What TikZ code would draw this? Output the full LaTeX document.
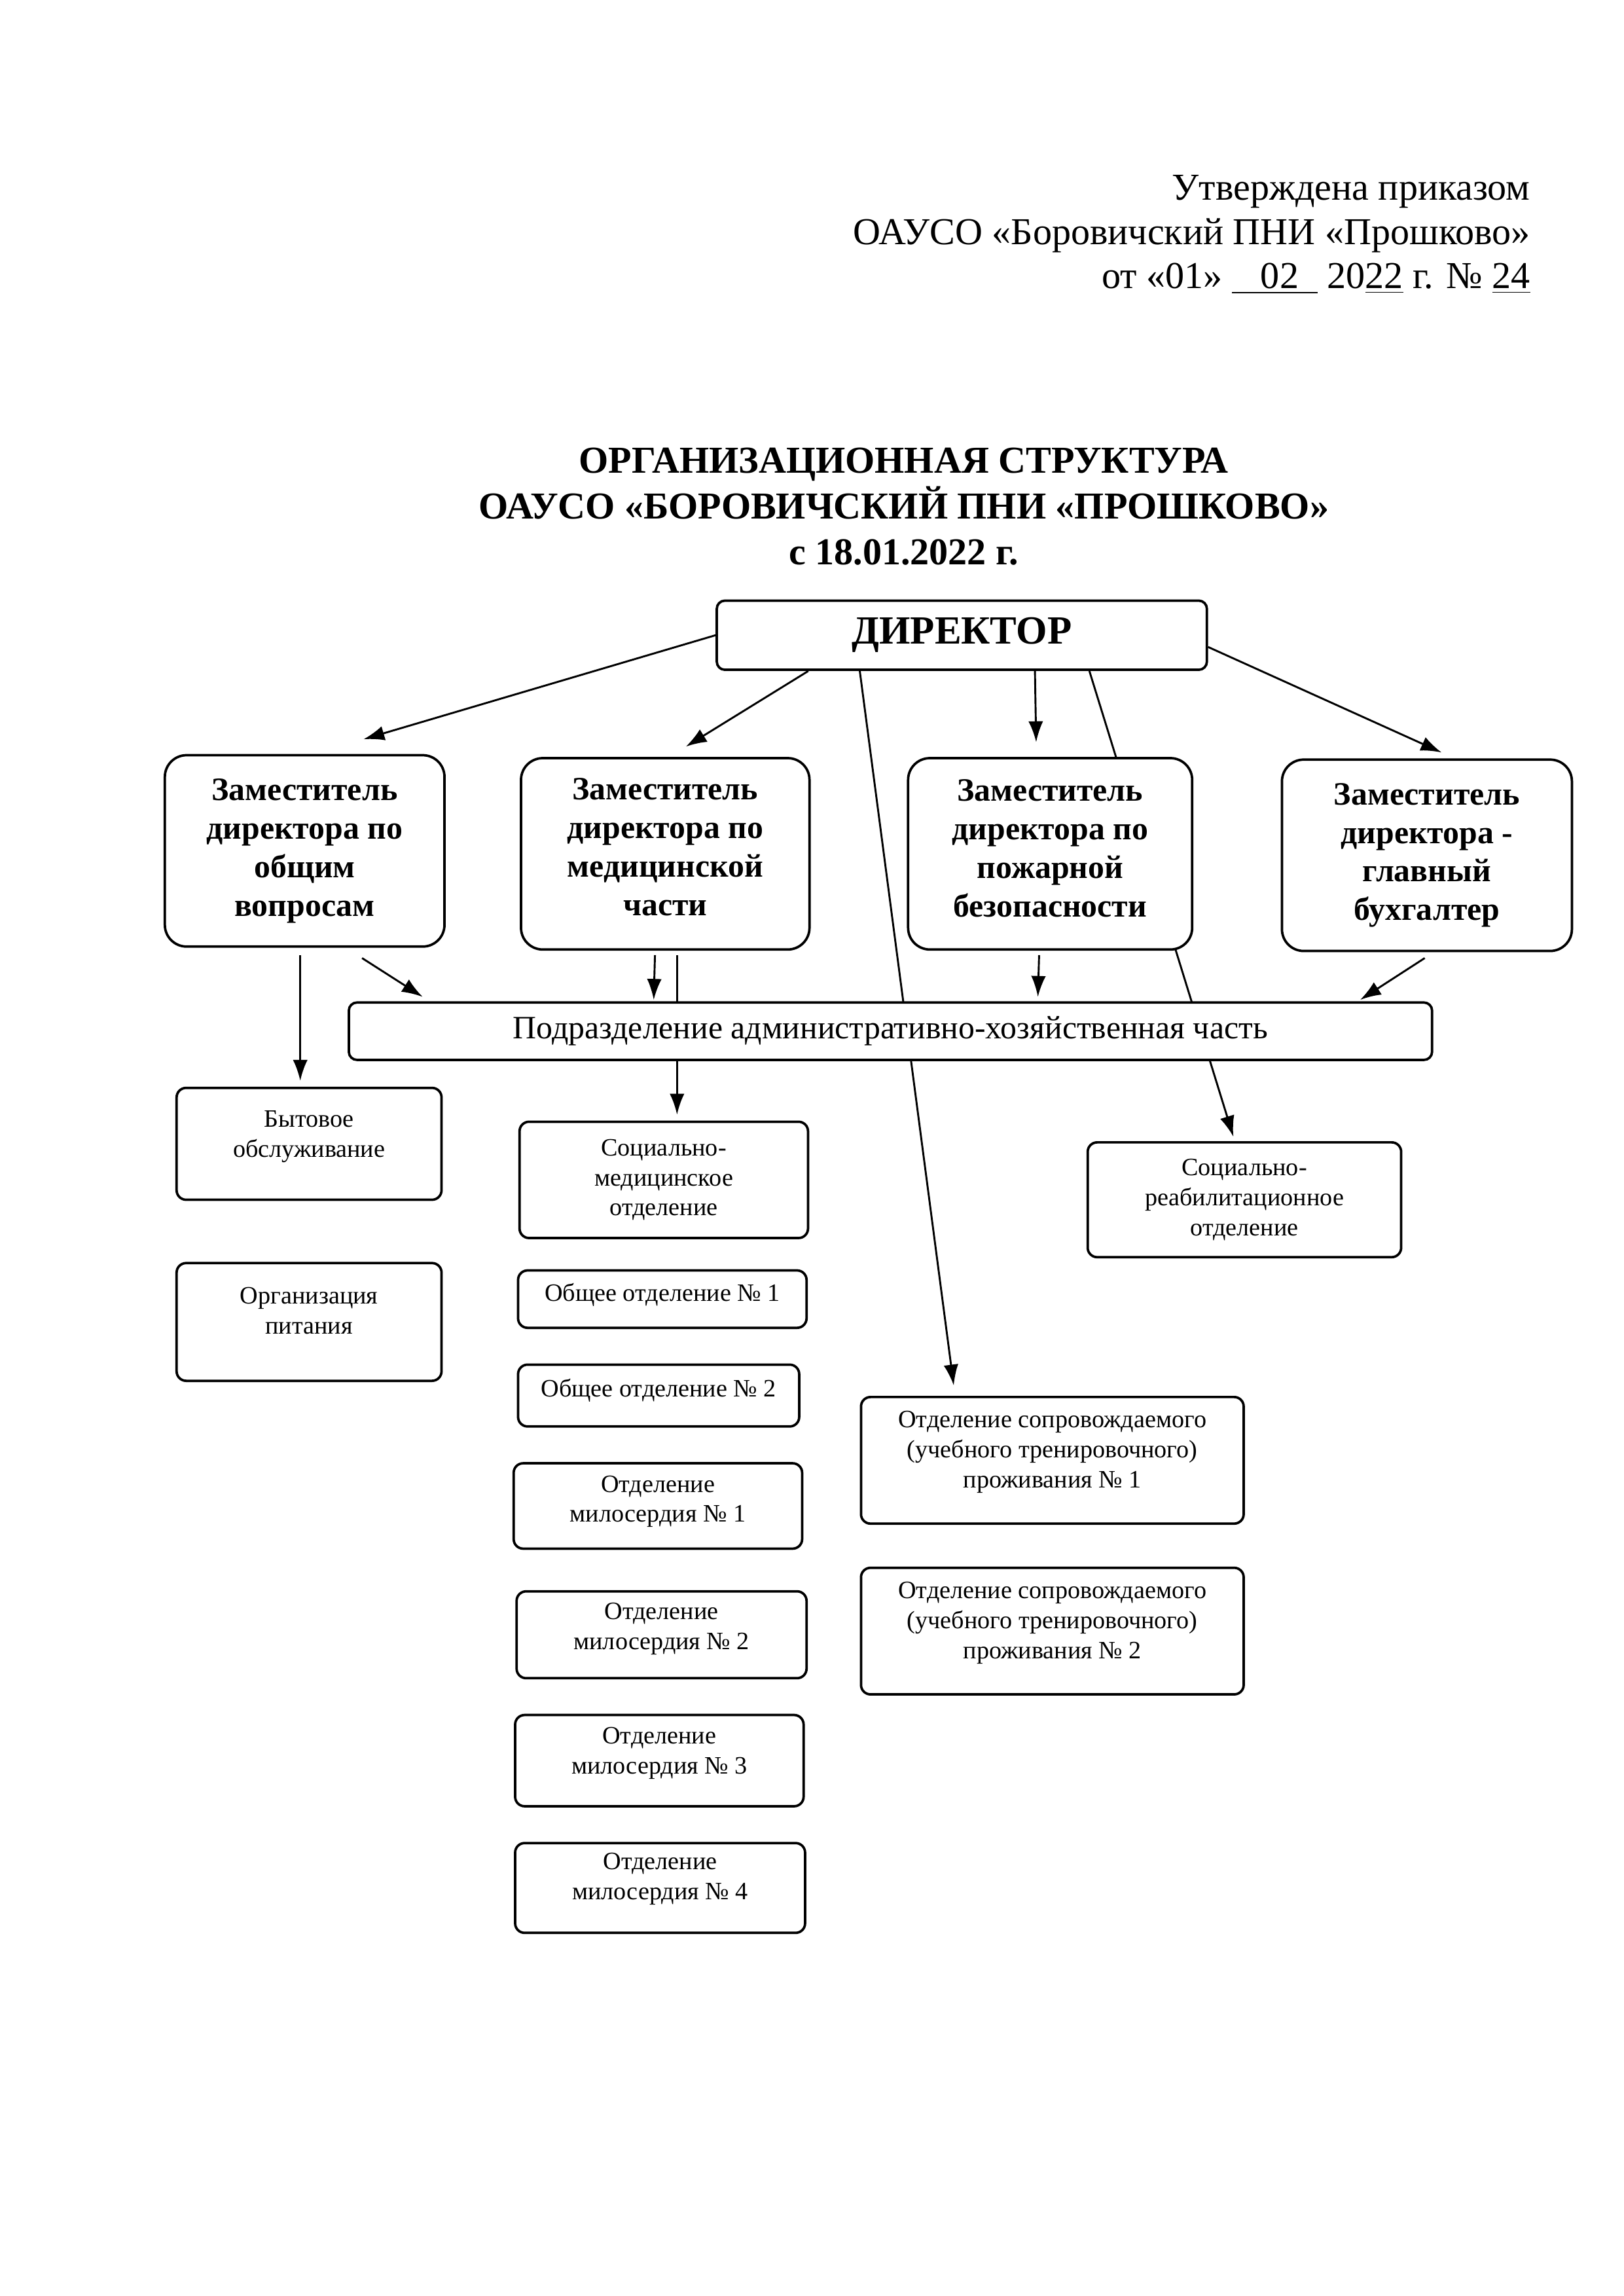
\documentclass[tikz,border=0pt]{standalone}
\usepackage{fontspec}
\setmainfont{Liberation Serif}
\usetikzlibrary{arrows.meta,calc}
\pgfdeclarelayer{bg}
\pgfsetlayers{bg,main}
\def\u{0.019039cm}
% \bx{style}{name}{x1}{y1}{x2}{y2}{text}
\newcommand\bx[7]{\node[#1, minimum width={(#5-#3)*\u}, minimum height={(#6-#4)*\u}] (#2) at ({(#3+#5)/2},{(#4+#6)/2}) {#7};}
% depth strut that lifts the text of a box
\newcommand\dstrut[1]{\rule[-#1]{0pt}{#1}}
\begin{document}
\begin{tikzpicture}[x=0.019039cm, y=-0.019039cm,
  box/.style={draw, line width=0.9pt, fill=white, rounded corners=#1, inner sep=0pt, align=center},
  deputy/.style={box=8pt, font=\fontsize{12}{14.2}\selectfont\bfseries},
  unit/.style={box=3.5pt, font=\fontsize{9.2}{11}\selectfont},
  hdr/.style={anchor=base east, inner sep=0pt, font=\fontsize{14}{16}\selectfont},
  ttl/.style={align=center, inner sep=0pt, font=\fontsize{14}{16.8}\selectfont\bfseries},
  arr/.style={-{Latex[length=2.7mm,width=1.9mm]}, line width=0.7pt}]
\useasboundingbox (0,0) rectangle (1103,1559.7);

% header
\node[hdr] (h1) at (1040,136) {Утверждена приказом};
\node[hdr] (h2) at (1040,166) {ОАУСО «Боровичский ПНИ «Прошково»};
\node[hdr] (h3) at (1040,196) {от «01» \underline{\ \ \ 02\ \ }\ 20\underline{22} г. № \underline{24}};

% title
\node[ttl] (title) at (614,344) {ОРГАНИЗАЦИОННАЯ СТРУКТУРА\\ОАУСО «БОРОВИЧСКИЙ ПНИ «ПРОШКОВО»\\с 18.01.2022 г.};

% director
\bx{box=3pt, font=\fontsize{14.7}{18}\selectfont\bfseries}{dir}{487}{408}{820}{455}{ДИРЕКТОР}

% deputies
\bx{deputy}{d1}{112}{513}{302}{643}{Заместитель\\директора по\\общим\\вопросам}
\bx{deputy}{d2}{354}{515}{550}{645}{Заместитель\\директора по\\медицинской\\части\dstrut{5pt}}
\bx{deputy}{d3}{617}{515}{810}{645}{Заместитель\\директора по\\пожарной\\безопасности\dstrut{4pt}}
\bx{deputy}{d4}{871}{516}{1068}{646}{Заместитель\\директора -\\главный\\бухгалтер}

% AHCh
\bx{box=3pt, font=\fontsize{12}{14}\selectfont}{ahch}{237}{681}{973}{720}{Подразделение административно-хозяйственная часть}

% left column
\bx{unit}{byt}{120}{739}{300}{815}{Бытовое\\обслуживание\dstrut{7.4pt}}
\bx{unit}{pit}{120}{858}{300}{938}{Организация\\питания\dstrut{8.3pt}}

% middle column
\bx{unit}{socmed}{353}{762}{549}{841}{Социально-\\медицинское\\отделение}
\bx{unit}{ob1}{352}{863}{548}{902}{Общее отделение № 1\dstrut{5pt}}
\bx{unit}{ob2}{352}{927}{543}{969}{Общее отделение № 2\dstrut{5.5pt}}
\bx{unit}{m1}{349}{994}{545}{1052}{Отделение\\милосердия № 1\dstrut{5.2pt}}
\bx{unit}{m2}{351}{1081}{548}{1140}{Отделение\\милосердия № 2\dstrut{6.3pt}}
\bx{unit}{m3}{350}{1165}{546}{1227}{Отделение\\милосердия № 3\dstrut{7.4pt}}
\bx{unit}{m4}{350}{1252}{547}{1313}{Отделение\\милосердия № 4\dstrut{8.5pt}}

% right column
\bx{unit}{socreab}{739}{776}{952}{854}{Социально-\\реабилитационное\\отделение}
\bx{unit}{sop1}{585}{949}{845}{1035}{Отделение сопровождаемого\\(учебного тренировочного)\\проживания № 1\dstrut{8pt}}
\bx{unit}{sop2}{585}{1065}{845}{1151}{Отделение сопровождаемого\\(учебного тренировочного)\\проживания № 2\dstrut{8pt}}

\begin{pgfonlayer}{bg}
\draw[arr] (dir.west) -- ($(d1.north)+(40,-10)$);
\draw[arr] ($(dir.south west)+(63,0)$) -- ($(d2.north)+(14,-7)$);
\draw[arr] ($(dir.south west)+(217,0)$) -- ($(d3.north)+(-9.5,-10)$);
\draw[arr] ($(dir.east)+(0,8)$) -- ($(d4.north)+(10,-4)$);
\draw[arr] ($(dir.south west)+(98,0)$) -- ($(sop1.north)+(-67,-7)$);
\draw[arr] ($(dir.south west)+(254,0)$) -- ($(socreab.north)+(-7.5,-3)$);

\draw[arr] ($(d1.south)+(-3,5)$) -- ($(byt.north)+(-6,-4)$);
\draw[arr] ($(d1.south)+(39,7)$) -- ($(ahch.north west)+(51,-3)$);
\draw[arr] ($(d2.south)+(-7,3)$) -- ($(ahch.north west)+(208,-1)$);
\draw[arr] ($(d2.south)+(8,3)$) -- ($(socmed.north)+(9,-4)$);
\draw[arr] ($(d3.south)+(-7.5,3)$) -- ($(ahch.north west)+(469,-3)$);
\draw[arr] ($(d4.south)+(-1.5,4)$) -- ($(ahch.north west)+(688,-1)$);
\end{pgfonlayer}
\end{tikzpicture}
\end{document}
